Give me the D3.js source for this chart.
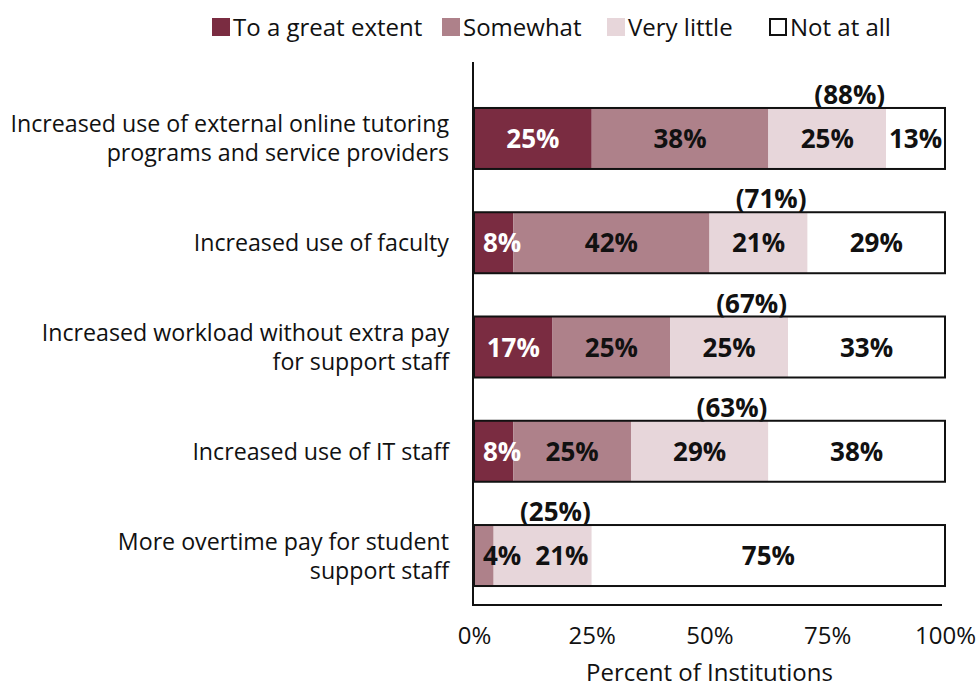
<!DOCTYPE html>
<html>
<head>
<meta charset="utf-8">
<script src="https://cdn.jsdelivr.net/npm/d3@7"></script>
<style>
  html, body { margin: 0; padding: 0; background: #fff; }
  svg { display: block; font-family: "Open Sans", "Noto Sans", sans-serif; }
</style>
</head>
<body>
<svg id="chart" width="980" height="690"></svg>
<script>
// Survey categories (each entry is a list of label lines)
const categories = [
  ["Increased use of external online tutoring", "programs and service providers"],
  ["Increased use of faculty"],
  ["Increased workload without extra pay", "for support staff"],
  ["Increased use of IT staff"],
  ["More overtime pay for student", "support staff"]
];

// Response series, percent of institutions
const seriesNames = ["To a great extent", "Somewhat", "Very little", "Not at all"];
const greatExtent = [25, 8.33, 16.67, 8.33, 0];
const somewhat    = [37.5, 41.67, 25, 25, 4.17];
const veryLittle  = [25, 20.83, 25, 29.17, 20.83];
const notAtAll    = [12.5, 29.17, 33.33, 37.5, 75];

// Axis ticks
const xTicks = [0, 25, 50, 75, 100];

const colors = ["#7a2c41", "#ae818a", "#e7d6da", "#ffffff"];
const textColors = ["#ffffff", "#111", "#111", "#111"];

const rows = categories.map((c, i) => ({
  key: i,
  "To a great extent": greatExtent[i],
  "Somewhat": somewhat[i],
  "Very little": veryLittle[i],
  "Not at all": notAtAll[i]
}));

const svg = d3.select("#chart");

const x = d3.scaleLinear().domain([0, 100]).range([474, 945]);
const y = d3.scaleBand()
  .domain(d3.range(categories.length))
  .range([86.5, 607.5])
  .paddingInner(0.415)
  .paddingOuter(0.206);

const stack = d3.stack().keys(seriesNames);
const stacked = stack(rows);

// Stacked segments
const layer = svg.append("g").selectAll("g")
  .data(stacked)
  .join("g")
  .attr("fill", (d, i) => colors[i]);

layer.selectAll("rect")
  .data(d => d)
  .join("rect")
  .attr("x", d => x(d[0]))
  .attr("y", (d, i) => y(i))
  .attr("width", d => x(d[1]) - x(d[0]))
  .attr("height", y.bandwidth());

// Outline around each full bar
svg.append("g").selectAll("rect")
  .data(rows)
  .join("rect")
  .attr("x", x(0))
  .attr("y", (d, i) => y(i))
  .attr("width", x(100) - x(0))
  .attr("height", y.bandwidth())
  .attr("fill", "none")
  .attr("stroke", "#111")
  .attr("stroke-width", 2);

// Segment value labels (nudged right so they stay inside the bar and don't collide)
const labelG = svg.append("g")
  .attr("font-weight", 700)
  .attr("font-size", 26);

rows.forEach((row, i) => {
  let minLeft = x(0) + 9;
  stacked.forEach((s, k) => {
    const seg = s[i];
    const v = seg[1] - seg[0];
    if (v <= 0) return;
    const t = labelG.append("text")
      .attr("fill", textColors[k])
      .attr("text-anchor", "middle")
      .attr("y", y(i) + y.bandwidth() / 2 + 9.5)
      .text(Math.round(v) + "%");
    const w = t.node().getComputedTextLength();
    let cx = (x(seg[0]) + x(seg[1])) / 2;
    if (cx - w / 2 < minLeft) cx = minLeft + w / 2;
    t.attr("x", cx);
    minLeft = cx + w / 2 + 14;
  });
});

// Totals of the three "some extent" responses, above each bar
svg.append("g")
  .attr("font-weight", 700)
  .attr("font-size", 26)
  .selectAll("text")
  .data(rows)
  .join("text")
  .attr("text-anchor", "end")
  .attr("x", d => x(stacked[2][d.key][1]) - 1)
  .attr("y", (d, i) => y(i) - 4)
  .attr("fill", "#111")
  .text(d => {
    const total = Math.round((d["To a great extent"] + d["Somewhat"] + d["Very little"]) * 100) / 100;
    return "(" + Math.round(total) + "%)";
  });

// Category labels
const catG = svg.append("g")
  .attr("font-size", 23.2)
  .attr("fill", "#111")
  .attr("text-anchor", "end");

categories.forEach((lines, i) => {
  const cy = y(i) + y.bandwidth() / 2;
  const lh = 29;
  const t = catG.append("text").attr("x", 449);
  lines.forEach((line, j) => {
    t.append("tspan")
      .attr("x", 449)
      .attr("y", cy + 8.5 + (j - (lines.length - 1) / 2) * lh)
      .text(line);
  });
});

// Axis lines
svg.append("line")
  .attr("x1", 473).attr("x2", 473)
  .attr("y1", 62).attr("y2", 606)
  .attr("stroke", "#111").attr("stroke-width", 2);

const xAxis = d3.axisBottom(x)
  .tickValues(xTicks)
  .tickSize(0)
  .tickPadding(0)
  .tickFormat(d => d + "%");

const gx = svg.append("g")
  .attr("transform", "translate(0,605)")
  .call(xAxis);
gx.select(".domain")
  .attr("d", `M${x(0) - 1},0H${942}`)
  .attr("stroke", "#111")
  .attr("stroke-width", 2);
gx.selectAll(".tick text")
  .attr("font-family", "Open Sans, Noto Sans, sans-serif")
  .attr("font-size", 24)
  .attr("fill", "#111")
  .attr("dy", null)
  .attr("y", 39);

// Axis title
svg.append("text")
  .attr("x", x(50))
  .attr("y", 681)
  .attr("text-anchor", "middle")
  .attr("font-size", 24)
  .attr("fill", "#111")
  .text("Percent of Institutions");

// Legend
const legendX = [212, 442, 607, 769];
const legend = svg.append("g").selectAll("g")
  .data(seriesNames)
  .join("g")
  .attr("transform", (d, i) => `translate(${legendX[i]},18)`);

legend.append("rect")
  .attr("x", (d, i) => i === 3 ? 1 : 0)
  .attr("y", (d, i) => i === 3 ? 1 : 0)
  .attr("width", (d, i) => i === 3 ? 16 : 18)
  .attr("height", (d, i) => i === 3 ? 16 : 18)
  .attr("fill", (d, i) => colors[i])
  .attr("stroke", (d, i) => i === 3 ? "#111" : "none")
  .attr("stroke-width", 2);

legend.append("text")
  .attr("x", 21)
  .attr("y", 18)
  .attr("font-size", 24)
  .attr("fill", "#111")
  .text(d => d);
</script>
</body>
</html>
